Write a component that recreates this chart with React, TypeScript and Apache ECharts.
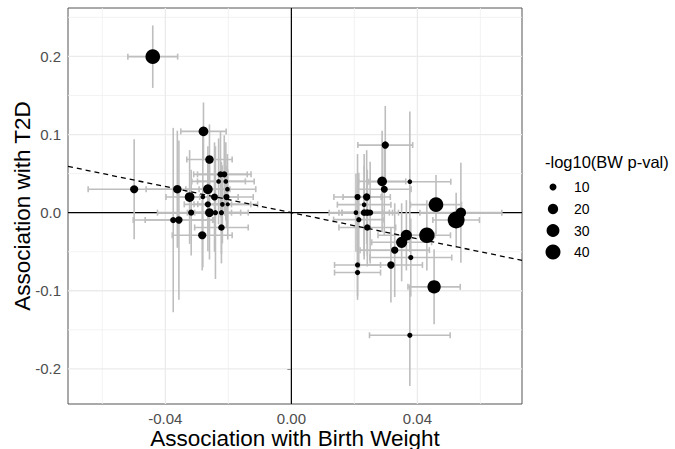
import React, { useEffect, useRef } from "react";
import * as echarts from "echarts";

// Association with Birth Weight (x), Association with T2D (y)
const bwBeta = [
  -0.044, -0.0279, -0.026, -0.0499, -0.0362, -0.0323, -0.0265, -0.0281, -0.0244, -0.0225,
  -0.0213, -0.0231, -0.0208, -0.0203, -0.0206, -0.0265, -0.0219, -0.0202, -0.0318, -0.026,
  -0.0241, -0.0222, -0.0375, -0.0357, -0.0283, -0.0222,
  0.0298, 0.0288, 0.0295, 0.0376, 0.021, 0.0239, 0.0231, 0.0205, 0.0231, 0.0241,
  0.025, 0.0214, 0.0241, 0.0459, 0.0538, 0.0523, 0.0365, 0.035, 0.043, 0.0328,
  0.0379, 0.0316, 0.021, 0.021, 0.0453, 0.0376,
];
const t2dBeta = [
  0.1997, 0.104, 0.068, 0.03, 0.03, 0.02, 0.03, 0.02, 0.02, 0.049,
  0.049, 0.04, 0.04, 0.03, 0.02, 0.0106, 0.0106, 0.0106, 0.0, 0.0,
  0.0, 0.0, -0.0095, -0.0095, -0.029, -0.019,
  0.0865, 0.04, 0.03, 0.0396, 0.02, 0.02, 0.0102, 0.0, 0.0, 0.0,
  0.0, -0.009, -0.019, 0.0102, 0.0, -0.0095, -0.029, -0.038, -0.029, -0.048,
  -0.0575, -0.067, -0.067, -0.0767, -0.095, -0.157,
];
// half-widths of the confidence intervals
const bwCI = [
  0.0079, 0.0072, 0.0072, 0.0146, 0.0099, 0.0075, 0.007, 0.008, 0.0075, 0.0085,
  0.0085, 0.0085, 0.009, 0.009, 0.0085, 0.0075, 0.009, 0.0095, 0.0107, 0.007,
  0.008, 0.0085, 0.0127, 0.0107, 0.0095, 0.0085,
  0.0087, 0.0075, 0.0085, 0.013, 0.0075, 0.0075, 0.0085, 0.0085, 0.008, 0.008,
  0.009, 0.008, 0.009, 0.0081, 0.013, 0.0074, 0.009, 0.0095, 0.0075, 0.011,
  0.013, 0.01, 0.0073, 0.0073, 0.0083, 0.0128,
];
const t2dCI = [
  0.04, 0.037, 0.045, 0.064, 0.075, 0.06, 0.055, 0.09, 0.07, 0.055,
  0.05, 0.055, 0.05, 0.045, 0.04, 0.06, 0.05, 0.045, 0.055, 0.06,
  0.085, 0.065, 0.118, 0.102, 0.045, 0.034,
  0.05, 0.065, 0.06, 0.09, 0.055, 0.06, 0.065, 0.05, 0.06, 0.055,
  0.065, 0.06, 0.05, 0.038, 0.064, 0.035, 0.045, 0.05, 0.045, 0.06,
  0.05, 0.048, 0.04, 0.035, 0.048, 0.065,
];
const bwLogP = [
  38, 18, 14, 13, 14, 18, 18, 5, 10, 8,
  8, 5, 5, 5, 8, 8, 5, 4, 8, 15,
  6, 6, 8, 11, 13, 9,
  11, 18, 10, 5, 8, 11, 5, 5, 9, 9,
  8, 6, 9, 38, 20, 50, 23, 23, 42, 11,
  6, 11, 6, 6, 32, 6,
];

const legendValues = [10, 20, 30, 40];
const xTicks = [-0.04, 0, 0.04];
const yTicks = [-0.2, -0.1, 0, 0.1, 0.2];
const xMinorGrid = [-0.06, -0.02, 0.02, 0.06];
const yMinorGrid = [-0.15, -0.05, 0.05, 0.15, 0.25];
const refSlope = -0.835;

const X_MIN = -0.0709;
const X_MAX = 0.0732;
const Y_MIN = -0.245;
const Y_MAX = 0.262;

const FONT = "'Liberation Sans', Arial, Helvetica, sans-serif";

function sizeFor(p: number) {
  return Math.max(3, 2.53 * Math.sqrt(p) - 1);
}

export default function App() {
  const ref = useRef<HTMLDivElement>(null);
  useEffect(() => {
    if (!ref.current) return;
    const chart = echarts.init(ref.current, null, { renderer: "svg" });

    const vLine = (color: string, width: number, dash?: number[]) => (params: any, api: any) => {
      const cs = params.coordSys;
      const p = api.coord([api.value(0), 0]);
      return {
        type: "line",
        shape: { x1: p[0], y1: cs.y, x2: p[0], y2: cs.y + cs.height },
        style: { stroke: color, lineWidth: width, lineDash: dash },
        silent: true,
      };
    };
    const hLine = (color: string, width: number) => (params: any, api: any) => {
      const cs = params.coordSys;
      const p = api.coord([0, api.value(1)]);
      return {
        type: "line",
        shape: { x1: cs.x, y1: p[1], x2: cs.x + cs.width, y2: p[1] },
        style: { stroke: color, lineWidth: width },
        silent: true,
      };
    };

    const errData = bwBeta.map((x, i) => [x, t2dBeta[i], bwCI[i], t2dCI[i]]);
    const ptData = bwBeta.map((x, i) => [x, t2dBeta[i], bwLogP[i]]);

    const errStyle = { stroke: "#BEBEBE", lineWidth: 1.6 };

    const legendGraphics: any[] = [
      {
        type: "text",
        left: 545,
        top: 153,
        style: { text: "-log10(BW p-val)", fontSize: 16.5, fill: "#000", fontFamily: FONT },
      },
    ];
    const legendY = [187, 209, 230.5, 252];
    legendValues.forEach((v, i) => {
      legendGraphics.push({
        type: "circle",
        shape: { cx: 553, cy: legendY[i], r: sizeFor(v) / 2 },
        style: { fill: "#000" },
      });
      legendGraphics.push({
        type: "text",
        x: 574,
        y: legendY[i],
        style: {
          text: String(v),
          fontSize: 14,
          fill: "#000",
          fontFamily: FONT,
          verticalAlign: "middle",
          align: "left",
        },
      });
    });

    chart.setOption({
      animation: false,
      backgroundColor: "#fff",
      textStyle: { fontFamily: FONT },
      grid: {
        left: 68,
        right: 153,
        top: 8,
        bottom: 45,
        containLabel: false,
        outerBoundsMode: "none",
        show: true,
        borderColor: "#555",
        borderWidth: 1,
        backgroundColor: "#fff",
      },
      xAxis: {
        type: "value",
        min: X_MIN,
        max: X_MAX,
        splitLine: { show: false },
        axisLine: { show: false },
        axisTick: { show: true, customValues: xTicks, length: 4, lineStyle: { color: "#333", width: 1 } },
        axisLabel: {
          customValues: xTicks,
          formatter: (v: number) => v.toFixed(2),
          color: "#4D4D4D",
          fontSize: 15,
          lineHeight: 14,
          margin: 7,
        },
        name: "Association with Birth Weight",
        nameLocation: "middle",
        nameMoveOverlap: false,
        nameGap: 23,
        nameTextStyle: { fontSize: 22.5, lineHeight: 22, color: "#000" },
      },
      yAxis: {
        type: "value",
        min: Y_MIN,
        max: Y_MAX,
        splitLine: { show: false },
        axisLine: { show: false },
        axisTick: { show: true, customValues: yTicks, length: 4, lineStyle: { color: "#333", width: 1 } },
        axisLabel: {
          customValues: yTicks,
          formatter: (v: number) => v.toFixed(1),
          color: "#4D4D4D",
          fontSize: 15,
          margin: 7,
        },
        name: "Association with T2D",
        nameLocation: "middle",
        nameMoveOverlap: false,
        nameGap: 34,
        nameTextStyle: { fontSize: 22.5, color: "#000" },
      },
      graphic: legendGraphics,
      series: [
        {
          type: "custom",
          silent: true,
          renderItem: vLine("#F0F0F0", 0.8),
          data: xMinorGrid.map((v) => [v, 0]),
          encode: { x: 0, y: 1 },
          z: 1,
        },
        {
          type: "custom",
          silent: true,
          renderItem: hLine("#F0F0F0", 0.8),
          data: yMinorGrid.map((v) => [0, v]),
          encode: { x: 0, y: 1 },
          z: 1,
        },
        {
          type: "custom",
          silent: true,
          renderItem: vLine("#EBEBEB", 1.3),
          data: xTicks.map((v) => [v, 0]),
          encode: { x: 0, y: 1 },
          z: 1,
        },
        {
          type: "custom",
          silent: true,
          renderItem: hLine("#EBEBEB", 1.3),
          data: yTicks.map((v) => [0, v]),
          encode: { x: 0, y: 1 },
          z: 1,
        },
        {
          type: "custom",
          silent: true,
          renderItem: vLine("#000", 1.2),
          data: [[0, 0]],
          encode: { x: 0, y: 1 },
          z: 2,
        },
        {
          type: "custom",
          silent: true,
          renderItem: hLine("#000", 1.2),
          data: [[0, 0]],
          encode: { x: 0, y: 1 },
          z: 2,
        },
        {
          type: "custom",
          silent: true,
          clip: true,
          z: 3,
          encode: { x: 0, y: 1 },
          data: errData,
          renderItem: (params: any, api: any) => {
            const x = api.value(0);
            const y = api.value(1);
            const xe = api.value(2);
            const ye = api.value(3);
            const l = api.coord([x - xe, y]);
            const r = api.coord([x + xe, y]);
            const t = api.coord([x, y + ye]);
            const b = api.coord([x, y - ye]);
            return {
              type: "group",
              children: [
                { type: "line", shape: { x1: t[0], y1: t[1], x2: b[0], y2: b[1] }, style: errStyle },
                { type: "line", shape: { x1: l[0], y1: l[1], x2: r[0], y2: r[1] }, style: errStyle },
                { type: "line", shape: { x1: l[0], y1: l[1] - 3, x2: l[0], y2: l[1] + 3 }, style: errStyle },
                { type: "line", shape: { x1: r[0], y1: r[1] - 3, x2: r[0], y2: r[1] + 3 }, style: errStyle },
              ],
            };
          },
        },
        {
          type: "line",
          silent: true,
          z: 4,
          symbol: "none",
          data: [
            [X_MIN, refSlope * X_MIN],
            [X_MAX, refSlope * X_MAX],
          ],
          lineStyle: { color: "#000", width: 1.3, type: [5, 4] },
        },
        {
          type: "scatter",
          z: 5,
          data: ptData,
          symbol: "circle",
          symbolSize: (val: number[]) => sizeFor(val[2]),
          itemStyle: { color: "#000", opacity: 1 },
        },
      ],
    });
    return () => chart.dispose();
  }, []);
  return (
    <div
      ref={ref}
      style={{ position: "fixed", left: 0, top: 0, width: 675, height: 449, background: "#fff" }}
    />
  );
}
